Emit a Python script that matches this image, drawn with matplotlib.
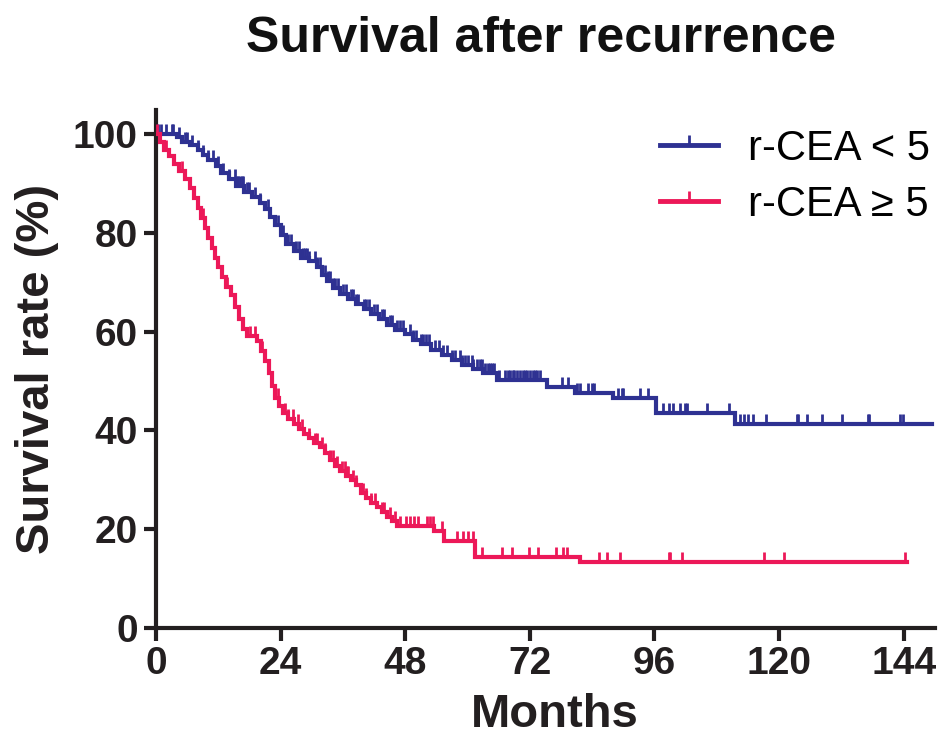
import numpy as np
import matplotlib
matplotlib.use("Agg")
import matplotlib.pyplot as plt
from matplotlib.path import Path
from matplotlib.lines import Line2D

plt.rcParams['font.family'] = ['Liberation Sans', 'DejaVu Sans']

# Kaplan-Meier step curves (months, survival %)
low_t = [0, 4, 5, 6.5, 8, 9, 10, 11.5, 12.5, 14, 15.5, 17, 18.5, 20, 21, 22, 23, 24,
         25, 26.5, 28, 29.5, 31, 32, 33, 34, 35.5, 37, 38.5, 40, 41.5, 43, 44.5, 46,
         48, 49.5, 51, 53, 55, 57, 59, 61, 63, 65.7, 75.3, 80.7, 88, 96.3, 111.6, 149.5]
low_s = [100, 99.5, 98.5, 97.8, 96.8, 95.8, 94.8, 93.5, 92.2, 91, 89.5, 88.3, 87.2, 86,
         84.8, 83.3, 81.5, 79.5, 77.8, 76.3, 75, 74.2, 73, 71.5, 70.2, 68.8, 67.6, 66.5,
         65.5, 64.5, 63.5, 62.5, 61.3, 60.3, 59.5, 58.3, 57.5, 56.3, 55.3, 54.3, 53.3,
         52.5, 51.6, 50.1, 48.8, 47.6, 46.5, 43.5, 41.2, 41.2]

high_t = [0, 0.7, 1.5, 2.5, 3.5, 4.5, 5.5, 6.5, 7.3, 8, 8.7, 9.4, 10, 10.7, 11.4, 12,
          12.7, 13.4, 14.5, 15.3, 16, 16.8, 17.5, 19.5, 20.3, 21, 21.7, 22.4, 23, 23.7,
          24.5, 25.5, 26.5, 27.5, 28.5, 29.5, 30.5, 31.5, 32.5, 33.5, 34.5, 35.5, 36.5,
          37.5, 38.5, 39.5, 40.5, 41.5, 42.5, 43.5, 44.5, 45.5, 46.5, 53.5, 55.5, 61.5,
          81.7, 144.7]
high_s = [100, 98.5, 96.8, 95.5, 94, 92.5, 91, 89, 87, 85, 83, 81, 79, 77, 75, 73, 71,
          69, 67.5, 65, 62.5, 60.5, 59, 58, 56, 54, 51.5, 49, 46.5, 45, 43.5, 42.3, 41.3,
          40.3, 39.3, 38.5, 37.5, 36.5, 35.3, 34, 32.8, 31.8, 30.8, 30, 28.8, 27.3, 26.2,
          25.3, 24.5, 23.5, 22.5, 21.5, 20.6, 19.6, 17.5, 14.3, 13.3, 13.3]

# censored observations (months)
low_cens = [0.3, 1, 2, 3.1, 3.3, 4.5, 5.5, 6, 7, 8, 9.1, 10, 11, 12, 13, 14, 15.2, 15.6,
            15.8, 16.2, 16.6, 16.8, 17.5, 18, 19, 20, 21.5, 22, 23.5, 24.5, 25.5, 26, 27,
            27.5, 28.3, 28.7, 29.1, 29.5, 30.6, 31, 31.5, 32.5, 33.1, 33.5, 34, 34.5, 35,
            36, 36.5, 37.5, 38, 38.5, 39, 40, 40.5, 41, 42, 42.5, 43.5, 44, 45.1, 45.5,
            46.5, 47, 47.5, 48.9, 49.5, 50, 51, 51.5, 52, 52.5, 53.8, 54.5, 55.3, 56, 57,
            57.5, 58.6, 59, 59.5, 60, 60.9, 61.1, 61.8, 62.4, 62.8, 63.4, 64, 64.4, 64.7,
            65, 66, 67.2, 67.8, 68.2, 68.8, 69, 69.6, 70.1, 70.7, 71, 71.5, 72.1, 72.6,
            73, 73.4, 74, 78.2, 79.4, 81.1, 81.7, 83.2, 84, 84.4, 89, 89.8, 90, 93.3, 94.8,
            97.7, 98.7, 99.6, 101, 101.9, 102.3, 106.2, 110.4, 112.5, 113.3, 114.1, 115,
            117.5, 123.5, 123.7, 125.4, 128.3, 132.2, 137.2, 137.4, 143.2, 143.9]
high_cens = [0.2, 2, 5, 9, 13.7, 18.1, 19.1, 20.5, 23.5, 24.9, 25.5, 26.4, 27.4, 28.1,
             29.5, 30.6, 31, 32, 32.6, 33.5, 34, 34.9, 35.8, 36.4, 36.8, 37, 38, 38.5,
             39.9, 40.5, 41.5, 42.2, 43.5, 44, 45.1, 46, 47, 48.2, 48.9, 49.6, 50.5, 52.2,
             52.8, 53.4, 55.1, 58, 59.1, 60, 61.1, 62.8, 66.7, 68.5, 71.9, 73.5, 77.1,
             78.4, 79.2, 85.4, 86.9, 89.4, 98.7, 99, 101.3, 117.1, 121, 144.3]

labels = ['r-CEA < 5', 'r-CEA \u2265 5']
blue = '#2e3192'
red = '#ec1858'
ink = '#231f20'

tick_mark = Path([(0, 0), (0, 1)])

fig = plt.figure(figsize=(9.43, 7.4), dpi=100)
ax = fig.add_axes([0.1654, 0.152, 0.826, 0.700])


def km(t, s, cens, color):
    t = np.array(t)
    s = np.array(s)
    ax.step(t, s, where='post', color=color, lw=3.0, solid_joinstyle='miter', zorder=3)
    c = np.array(cens)
    idx = np.searchsorted(t, c, side='right') - 1
    ax.plot(c, s[idx], linestyle='none', marker=tick_mark, markersize=15,
            markeredgewidth=2.0, color=color, zorder=3)


km(low_t, low_s, low_cens, blue)
km(high_t, high_s, high_cens, red)

ax.set_xlim(0, 150)
ax.set_ylim(0, 105)
ax.set_xticks([0, 24, 48, 72, 96, 120, 144])
ax.set_yticks([0, 20, 40, 60, 80, 100])
for sp in ['top', 'right']:
    ax.spines[sp].set_visible(False)
for sp in ['left', 'bottom']:
    ax.spines[sp].set_linewidth(3)
    ax.spines[sp].set_color(ink)
ax.tick_params(width=3, length=9, color=ink, pad=4)
for lab in ax.get_xticklabels() + ax.get_yticklabels():
    lab.set_fontweight('bold')
    lab.set_fontsize(28)
    lab.set_color(ink)

ax.set_xlabel('Months', fontsize=34, fontweight='bold', color=ink)
ax.xaxis.set_label_coords(0.512, -0.126)
ax.set_ylabel('Survival rate (%)', fontsize=34, fontweight='bold', color=ink, labelpad=10)
fig.text(0.574, 0.947, 'Survival after recurrence', fontsize=36, fontweight='bold',
         ha='center', va='center', color='#111111')

handles = [Line2D([], [], color=blue, lw=3.5, marker=tick_mark, markersize=15, markeredgewidth=2.0),
           Line2D([], [], color=red, lw=3.5, marker=tick_mark, markersize=15, markeredgewidth=2.0)]
ax.legend(handles, labels, loc='upper left', bbox_to_anchor=(0.700, 0.826),
          bbox_transform=fig.transFigure, frameon=False, fontsize=30, handlelength=1.4,
          handletextpad=0.72, labelspacing=0.38, numpoints=1, borderpad=0, borderaxespad=0)

fig.savefig('out.png', dpi=100)
